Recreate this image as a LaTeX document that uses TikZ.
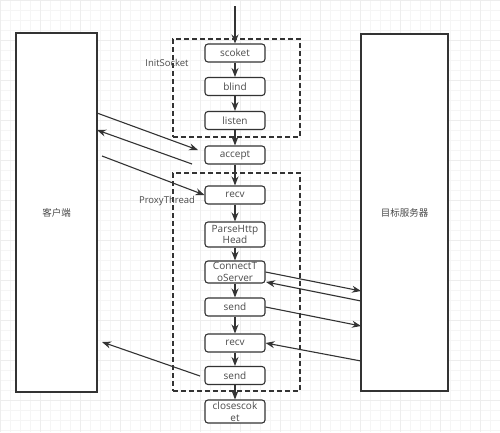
\documentclass[tikz,border=0pt]{standalone}
\usepackage{fontspec}
\setmainfont{Open Sans}
\newfontfamily\cjk{Noto Sans CJK SC}
\usetikzlibrary{arrows.meta}
\definecolor{ink}{HTML}{333333}
\definecolor{txt}{HTML}{4a4a4a}
\tikzset{
  stepbox/.style={draw=ink, line width=1.1pt, rounded corners=3pt, fill=white,
    minimum width=60pt, minimum height=18pt, inner sep=0pt, align=center,
    font=\fontsize{10}{11.5}\selectfont, text=txt},
  bigbox/.style={draw=ink, line width=1.1pt, fill=white, inner sep=0pt,
    font=\cjk\fontsize{9.5}{11}\selectfont, text=txt},
  groupbox/.style={draw=ink, line width=1.2pt, dash pattern=on 5pt off 3pt, inner sep=0pt},
  flow/.style={draw=ink, line width=1.1pt, -{Stealth[length=9pt,width=7pt]}},
  lbl/.style={font=\fontsize{9.5}{11}\selectfont, text=txt, inner sep=0pt}
}
\begin{document}
\begin{tikzpicture}[x=1pt,y=-1pt]
\useasboundingbox (0,0) rectangle (500,432);
\fill[white] (0,0) rectangle (500,432);
\draw[black!4, line width=0.5pt] (0,0) grid[step=10pt] (500,432);
\draw[black!7, line width=0.6pt] (0,0) grid[step=40pt] (500,432);

% group boxes
\node[groupbox, minimum width=127pt, minimum height=98pt] (initbox) at (236.5,88) {};
\node[groupbox, minimum width=127pt, minimum height=218pt] (proxybox) at (236.5,282) {};
\node[lbl] (initlbl) at (167,63) {InitSocket};
\node[lbl] (proxylbl) at (167,201) {ProxyThread};

% side boxes
\node[bigbox, minimum width=81pt, minimum height=359pt] (client) at (56.5,212.5) {客户端};
\node[bigbox, minimum width=87pt, minimum height=357pt] (server) at (404.5,212.5) {目标服务器};

% steps
\node[stepbox] (scoket) at (235,53) {scoket};
\node[stepbox] (blind) at (235,86.5) {blind};
\node[stepbox] (listen) at (235,120.5) {listen};
\node[stepbox] (accept) at (235,155) {accept};
\node[stepbox] (recv) at (235,195) {recv};
\node[stepbox, minimum height=25pt] (parse) at (235,234.5) {ParseHttp\\Head};
\node[stepbox, minimum height=22pt] (connect) at (235,272) {ConnectT\\oServer};
\node[stepbox] (send) at (235,307) {send};
\node[stepbox] (recvb) at (235,343) {recv};
\node[stepbox] (sendb) at (235,375.5) {send};
\node[stepbox, minimum height=23pt] (close) at (235,411.5) {closescok\\et};

% vertical flow
\coordinate (start) at (235,6);
\draw[flow] (start) -- (scoket.north);
\draw[flow] (scoket) -- (blind);
\draw[flow] (blind) -- (listen);
\draw[flow] (listen) -- (accept);
\draw[flow] (accept) -- (recv);
\draw[flow] (recv) -- (parse);
\draw[flow] (parse) -- (connect);
\draw[flow] (connect) -- (send);
\draw[flow] (send) -- (recvb);
\draw[flow] (recvb) -- (sendb);
\draw[flow] (sendb) -- (close);

% client side
\coordinate (c1) at (97,113);
\coordinate (a1) at (198,150);
\coordinate (a2) at (192,164);
\coordinate (c2) at (97,130);
\coordinate (c3) at (102,156);
\coordinate (s2) at (200,376);
\coordinate (c4) at (102,342);
\draw[flow] (c1) -- (a1);
\draw[flow] (a2) -- (c2);
\draw[flow] (c3) -- (recv.west);
\draw[flow] (s2) -- (c4);

% server side
\coordinate (v1) at (361,291);
\coordinate (v2) at (361,301);
\coordinate (k2) at (266,282);
\coordinate (v3) at (361,326);
\coordinate (v4) at (361,361);
\draw[flow] (connect.east) -- (v1);
\draw[flow] (v2) -- (k2);
\draw[flow] (send.east) -- (v3);
\draw[flow] (v4) -- (recvb.east);
\end{tikzpicture}
\end{document}
